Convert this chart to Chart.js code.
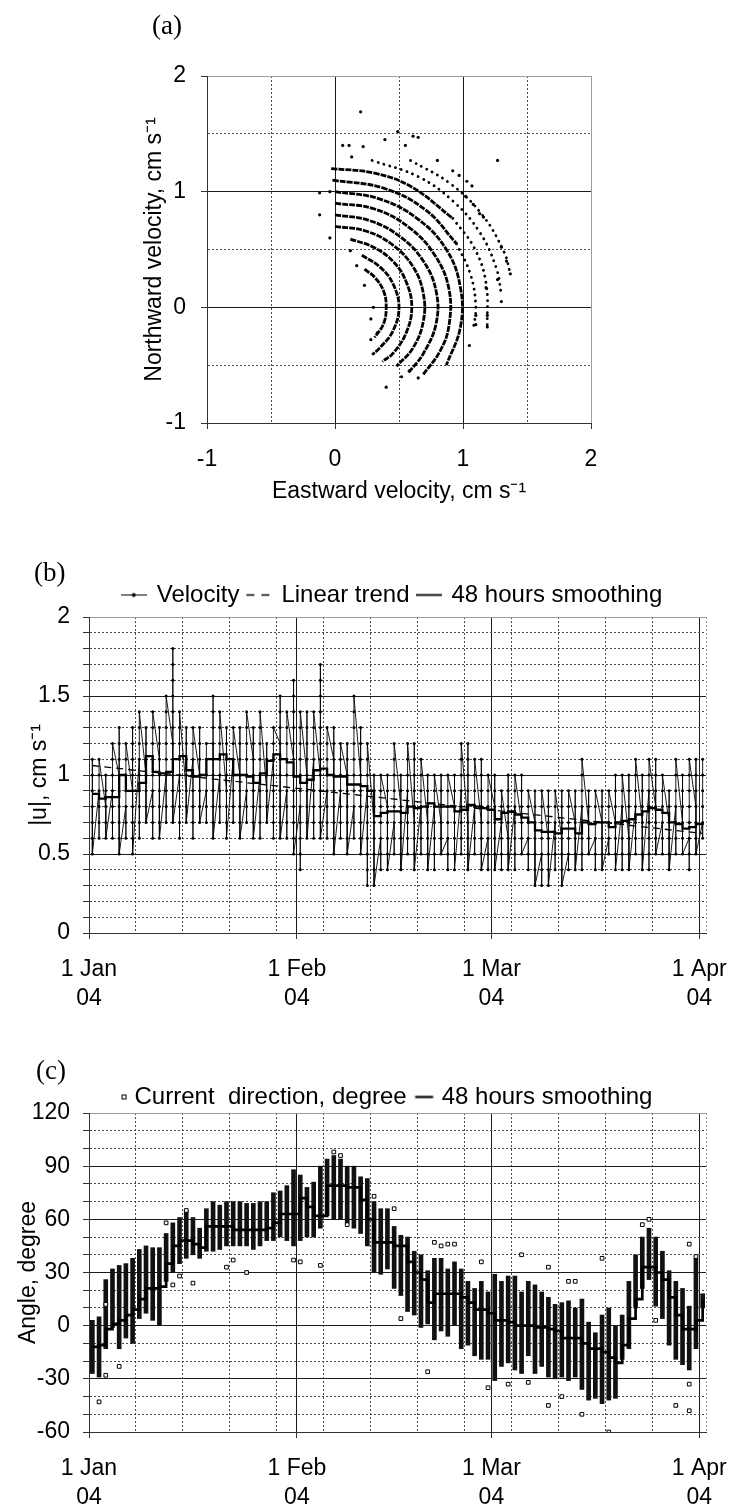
<!DOCTYPE html>
<html><head><meta charset="utf-8">
<script src="https://cdn.jsdelivr.net/npm/chart.js@4.4.1/dist/chart.umd.min.js"></script>
<style>
html,body{margin:0;padding:0;background:#fff;}
#wrap{position:relative;width:733px;height:1510px;overflow:hidden;background:#fff;}
#wrap canvas{position:absolute;left:0;}
.pl{position:absolute;font-family:'Liberation Serif','Times New Roman',serif;font-size:27px;line-height:27px;color:#000;}
</style></head><body>
<div id="wrap">
<canvas id="ca" width="733" height="520" style="top:0;width:733px;height:520px"></canvas>
<canvas id="cb" width="733" height="480" style="top:540px;width:733px;height:480px"></canvas>
<canvas id="cc" width="733" height="470" style="top:1040px;width:733px;height:470px"></canvas>
<div class="pl" style="left:152px;top:12px">(a)</div>
<div class="pl" style="left:34px;top:559px">(b)</div>
<div class="pl" style="left:36px;top:1057px">(c)</div>
</div>
<script>
// ---------------- DATA ----------------
// Panel (a): arcs of equal speed (u east, v north, cm/s)
const arc04 = [[0.23,0.33],[0.31,0.26],[0.38,0.14],[0.40,0],[0.38,-0.14],[0.31,-0.26]];
const arc05 = [[0.21,0.45],[0.35,0.35],[0.45,0.21],[0.50,0],[0.45,-0.21],[0.35,-0.35],[0.29,-0.41]];
const arc06 = [[0.12,0.59],[0.30,0.52],[0.46,0.39],[0.56,0.21],[0.60,0],[0.56,-0.21],[0.46,-0.39],[0.37,-0.47]];
const arc07 = [[0,0.70],[0.24,0.66],[0.45,0.54],[0.61,0.35],[0.69,0.12],[0.69,-0.12],[0.61,-0.35],[0.48,-0.51]];
const arc08 = [[0,0.80],[0.27,0.75],[0.51,0.61],[0.69,0.40],[0.79,0.14],[0.79,-0.14],[0.69,-0.40],[0.57,-0.57]];
const arc09 = [[0,0.90],[0.31,0.85],[0.58,0.69],[0.78,0.45],[0.89,0.16],[0.89,-0.16],[0.82,-0.38],[0.69,-0.58]];
const arc10 = [[0,1.00],[0.34,0.94],[0.64,0.77],[0.87,0.50],[0.98,0.17],[0.98,-0.17],[0.87,-0.50]];
const arc11 = [[-0.02,1.10],[0.38,1.03],[0.71,0.84],[0.95,0.55]];
const arc12 = [[-0.03,1.20],[0.31,1.16],[0.60,1.04],[0.92,0.77]];
const arc11s = [[0.95,0.55],[1.06,0.28],[1.10,0],[1.08,-0.19]];
const arc12s = [[0.92,0.77],[1.09,0.51],[1.18,0.21],[1.19,-0.17]];
const arc13s = [[0.29,1.27],[0.65,1.13],[0.92,0.92],[1.13,0.65],[1.26,0.34],[1.30,0.11]];
const arc14s = [[0.59,1.27],[0.90,1.07],[1.15,0.80],[1.32,0.48],[1.37,0.29]];
const scatterA = [[0.20,1.69],[0.49,1.52],[0.39,1.45],[0.61,1.48],[0.65,1.47],[0.06,1.40],[0.11,1.40],[0.22,1.39],[0.55,1.40],[0.13,1.30],
  [1.27,1.27],[0.80,1.27],[0.92,1.18],[0.97,1.14],[1.03,1.09],[1.07,1.05],[1.02,0.96],[1.08,0.89],[1.13,0.81],[1.16,0.78],
  [-0.12,0.99],[-0.04,1.00],[-0.12,0.80],[-0.04,0.60],[0.12,0.49],[0.17,0.36],[0.23,0.19],[0.30,0.0],[0.28,-0.10],[0.28,-0.28],
  [0.33,-0.22],[0.40,-0.69],[0.52,-0.60],[0.65,-0.61],[0.58,-0.55],[1.05,-0.33],[1.10,-0.15],[1.10,-0.07],[1.19,-0.07],[1.19,-0.17],
  [1.30,0.52],[1.34,0.40],[1.37,0.29],[1.27,0.24],[1.30,0.05],[1.18,0.17]];

// Panels (b),(c): daily categories 1 Jan 2004 .. 1 Apr 2004
const dates = ['1 Jan','2 Jan','3 Jan','4 Jan','5 Jan','6 Jan','7 Jan','8 Jan','9 Jan','10 Jan','11 Jan','12 Jan','13 Jan','14 Jan','15 Jan','16 Jan',
 '17 Jan','18 Jan','19 Jan','20 Jan','21 Jan','22 Jan','23 Jan','24 Jan','25 Jan','26 Jan','27 Jan','28 Jan','29 Jan','30 Jan','31 Jan',
 '1 Feb','2 Feb','3 Feb','4 Feb','5 Feb','6 Feb','7 Feb','8 Feb','9 Feb','10 Feb','11 Feb','12 Feb','13 Feb','14 Feb','15 Feb','16 Feb',
 '17 Feb','18 Feb','19 Feb','20 Feb','21 Feb','22 Feb','23 Feb','24 Feb','25 Feb','26 Feb','27 Feb','28 Feb','29 Feb',
 '1 Mar','2 Mar','3 Mar','4 Mar','5 Mar','6 Mar','7 Mar','8 Mar','9 Mar','10 Mar','11 Mar','12 Mar','13 Mar','14 Mar','15 Mar','16 Mar',
 '17 Mar','18 Mar','19 Mar','20 Mar','21 Mar','22 Mar','23 Mar','24 Mar','25 Mar','26 Mar','27 Mar','28 Mar','29 Mar','30 Mar','31 Mar','1 Apr'];
// time-axis grid positions (days since 1 Jan) and month tick labels
const timeGrid = [0,7,14,21,28,31,35,42,49,56,60,63,70,77,84,91,92];
const monthTicks = [0,31,60,91];
const monthLabels = [['1 Jan','04'],['1 Feb','04'],['1 Mar','04'],['1 Apr','04']];

// (b) velocity readings per day, mm/s (= 0.1 cm/s steps)
const velocityMM = [
 [8,9,10,11,7,6,5],[9,8,7,6,10,11],[8,9,10,7,6],[9,8,7,6,10,11,12],[10,11,12,13,9,8,7,6,5],[8,7,6,9,10,11,12],
 [9,10,11,12,13,8,7,6,5],[11,10,9,8,7,6,12,13,14],[10,11,12,13,9,8,7],[9,8,7,6,10,11,12,13,14],[11,12,13,10,9,8,7,6],
 [10,9,8,7,11,12,13,14,15],[12,13,14,15,16,17,18,11,10,9,8,7],[10,9,8,7,6,11,12,13,14],[9,10,11,12,13,8,7],
 [11,10,9,8,7,6,12,13],[10,11,12,13,9,8,7],[9,8,7,10,11,12],[12,13,14,15,11,10,9,8,7,6],[10,9,8,7,11,12,13,14],
 [9,10,11,12,13,8,7,6],[11,10,9,8,7,12,13],[10,11,12,13,9,8,7,6],[9,8,7,10,11,12,13,14],[11,12,13,10,9,8,7,6],
 [10,9,8,7,6,11,12,13,14],[9,10,11,12,8,7],[11,10,9,8,7,6,12,13],[12,13,14,15,11,10,9,8,7,6],[9,8,7,6,10,11,12,13,14],
 [11,12,13,14,15,16,10,9,8,7,6,5],[8,7,6,5,4,9,10,11,12,13,14],[10,11,12,13,14,9,8,7,6],[11,10,9,8,7,6,12,13,14],
 [10,11,12,13,14,15,16,17,9,8,7,6],[9,8,7,6,10,11,12,13],[11,12,13,10,9,8,7,6,5],[9,8,7,6,10,11,12],[10,11,12,9,8,7,6,5],
 [8,7,6,9,10,11,12,13,14,15],[10,11,12,13,9,8,7,6,5],[9,8,7,6,5,4,3,10,11,12],[7,8,9,10,6,5,4,3],[6,5,4,7,8,9,10],
 [8,9,10,7,6,5,4],[7,6,5,8,9,10,11,12],[8,9,10,7,6,5,4],[9,8,7,6,5,10,11,12],[7,8,9,10,11,12,6,5,4],[8,7,6,5,9,10,11],
 [7,8,9,10,6,5,4],[8,7,6,5,4,9,10],[7,8,9,10,6,5],[6,5,4,7,8,9,10],[8,9,10,7,6,5,4],[9,8,7,6,5,10,11,12],
 [7,8,9,10,11,12,6,5,4],[8,7,6,5,9,10,11],[7,8,9,10,11,6,5,4],[6,5,4,7,8,9,10],[8,9,10,7,6,5,4],[7,6,5,4,8,9],
 [6,7,8,9,10,5,4],[8,7,6,5,4,9,10],[7,8,9,10,6,5],[6,5,4,7,8,9],[7,8,9,6,5,4,3],[5,4,3,6,7,8,9],[6,7,8,9,5,4,3],
 [7,6,5,4,8,9],[6,7,8,9,5,4,3],[5,4,6,7,8,9],[7,8,9,6,5,4],[8,7,6,5,4,9,10,11],[7,8,9,6,5],[6,5,4,7,8,9],[7,8,9,6,5,4],
 [6,5,7,8,9],[7,8,9,10,6,5,4],[8,7,6,5,4,9,10],[6,7,8,9,10,5,4],[8,7,6,5,9,10,11],[7,8,9,10,6,5,4],[9,8,7,6,5,4,10,11],
 [8,9,10,11,7,6,5],[7,6,5,8,9,10],[7,8,9,6,5,4],[8,7,6,5,9,10,11],[7,8,9,10,6,5],[6,5,4,7,8,9,10,11],[8,9,10,11,7,6,5],[7,6,8,9,10,11]];
const trendDates = ['1 Jan','1 Apr'];
const trendValues = [1.06, 0.63];
const velSmooth = [0.88,0.85,0.86,0.86,1.0,0.9,0.9,0.95,1.12,1.02, 1.01,1.02,1.1,1.12,1.03,0.99,1.0,1.1,1.1,1.13,
 1.1,1.0,1.0,0.99,0.95,1.01,1.09,1.13,1.1,1.08, 0.99,0.95,0.97,1.03,1.04,1.0,0.99,0.99,0.94,0.94,
 0.93,0.9,0.74,0.76,0.77,0.77,0.76,0.8,0.79,0.8, 0.82,0.8,0.8,0.8,0.77,0.78,0.81,0.8,0.79,0.78,
 0.72,0.76,0.77,0.75,0.73,0.7,0.65,0.64,0.64,0.63, 0.66,0.66,0.63,0.7,0.69,0.7,0.7,0.67,0.7,0.71,
 0.72,0.75,0.77,0.79,0.78,0.76,0.7,0.69,0.66,0.67, 0.69,0.7];

// (c) daily spread of current direction (deg) and 48 h smoothing
const dirLo = [-27,-29,-13,-1,-13,-7,-10,4,7,3, 0,25,30,35,38,40,38,42,42,43, 45,45,45,45,43,45,48,48,50,48,
 45,48,50,50,55,62,60,60,58,55, 52,45,30,29,32,21,17,8,6,-1, 1,-8,-3,-6,0,-13,-11,-17,-19,-19,
 -31,-23,-21,-25,-27,-17,-27,-23,-29,-30, -29,-31,-29,-36,-42,-41,-44,-42,-41,-19, -13,10,21,26,11,4,-11,-19,-22,-25, -13,10];
const dirHi = [3,5,26,32,34,35,38,43,45,44, 44,52,58,61,65,61,55,66,70,68, 70,70,70,69,69,70,70,75,76,79,
 88,85,78,81,90,94,96,94,90,90, 84,83,70,66,66,56,51,50,42,40, 31,38,38,32,36,32,25,21,25,19,
 29,25,28,28,19,25,23,19,16,12, 13,14,10,15,2,-4,6,10,0,6, 25,40,50,55,50,42,31,25,21,11, 38,18];
const dirSmooth = [-12,-11,-2,1,3,6,9,15,21,21, 22,35,45,48,48,46,44,56,56,56, 56,54,54,54,54,54,55,58,63,63,
 63,72,67,62,62,79,79,79,78,78, 71,60,47,47,47,45,45,36,30,26, 13,18,18,18,18,16,13,9,9,7,
 3,3,2,0,0,0,-1,-1,-2,-3, -7,-7,-7,-10,-13,-13,-15,-18,-21,-11, 4,15,33,33,30,26,16,6,-2,-2, 3,14];
const outDay = [1,2,2,4,11,12,13,14,15,20, 21,23,30,31,34,36,37,38,42,45, 46,50,51,52,53,54,58,59,62,64, 65,68,68,70,71,72,73,76,77,82, 83,84,87,89,89,89,90];
const outDeg = [-43,12,-28,-23,58,23,28,65,24,33, 37,30,37,36,34,98,96,57,73,66, 4,-26,47,45,46,46,36,-35,-33,40, -32,33,-45,-40,25,25,-50,38,-60,57, 60,3,-45,-48,-33,46,39];

// ---------------- STYLE / HELPERS ----------------
const FONT = "'Liberation Sans', Arial, Helvetica, sans-serif";
Chart.defaults.font.family = FONT;
Chart.defaults.font.size = 23;
Chart.defaults.color = '#000';
Chart.defaults.animation = false;
Chart.defaults.plugins.tooltip.enabled = false;

const G_MAJOR = '#1c1c1c', G_MINOR = '#4a4a4a', G_EDGE = '#9c9c9c';
const near = (a, b) => Math.abs(a - b) < 1e-6;
const isMult = (v, m) => near(v / m, Math.round(v / m));

function gridOpts(isMajor, isEdge, tickOn) {
  return {
    offset: false,
    color: c => { if (!c.tick) return G_MINOR; const v = c.tick.value; return isEdge(v) ? G_EDGE : (isMajor(v) ? G_MAJOR : G_MINOR); },
    lineWidth: 1, tickLength: 6, drawTicks: true,
    tickColor: c => (c.tick && tickOn(c.tick.value)) ? '#333' : 'rgba(0,0,0,0)'
  };
}
function borderOpts(isMajor) {
  return { display: true, color: '#333', width: 1, dash: c => (c.tick && !isMajor(c.tick.value)) ? [2, 2] : [] };
}
function marker(w, h, draw) {
  const c = document.createElement('canvas'); c.width = w; c.height = h;
  const g = c.getContext('2d'); draw(g); return c;
}
// legend symbols
const mkVel = marker(26, 9, g => { g.strokeStyle = '#000'; g.lineWidth = 1; g.beginPath(); g.moveTo(0, 4.5); g.lineTo(26, 4.5); g.stroke();
  g.fillStyle = '#000'; g.beginPath(); g.arc(13, 4.5, 1.9, 0, Math.PI * 2); g.fill(); });
const mkTrend = marker(26, 9, g => { g.strokeStyle = '#000'; g.lineWidth = 1.3; g.beginPath(); g.moveTo(1, 4.5); g.lineTo(9, 4.5); g.moveTo(16, 4.5); g.lineTo(24, 4.5); g.stroke(); });
const mkSmooth = marker(26, 9, g => { g.strokeStyle = '#000'; g.lineWidth = 1.8; g.beginPath(); g.moveTo(0, 4.5); g.lineTo(26, 4.5); g.stroke(); });
const mkSquare = marker(26, 9, g => { g.strokeStyle = '#000'; g.lineWidth = 1; g.strokeRect(19.5, 2.5, 4, 4); });
const mkSmooth2 = marker(28, 9, g => { g.strokeStyle = '#000'; g.lineWidth = 2.2; g.beginPath(); g.moveTo(6.5, 4.5); g.lineTo(24.5, 4.5); g.stroke(); });

function legendCfg(maxH, boxW, pad) {
  return {
    display: true, position: 'top', fullSize: false, align: 'center', maxHeight: maxH,
    labels: {
      usePointStyle: true, pointStyleWidth: boxW, padding: pad, color: '#000', font: { size: 24 },
      generateLabels: chart => chart.data.datasets.map((ds, i) => ({
        text: ds.label, datasetIndex: i, pointStyle: ds.legendMarker, hidden: false,
        lineWidth: 0, strokeStyle: 'rgba(0,0,0,0)', fillStyle: 'rgba(0,0,0,0)', fontColor: '#000'
      })).filter(it => it.text)
    }
  };
}
// small layout helper: nudge the legend row horizontally
const legendShift = { id: 'legendShift', afterLayout(chart, args, opts) {
  const lg = chart.legend; if (lg && opts && opts.dx) { lg.left += opts.dx; lg.right += opts.dx; } } };

// ---------------- PANEL (a) ----------------
const toXY = arr => arr.map(p => ({ x: p[0], y: p[1] }));
const dense = d => ({ type: 'line', data: toXY(d), borderColor: '#000', borderWidth: 2.8, borderDash: [6, 1.1], tension: 0.4, pointRadius: 0, fill: false });
const sparse = d => ({ type: 'line', data: toXY(d), borderColor: '#000', borderWidth: 2.8, borderDash: [0.1, 6], borderCapStyle: 'round', tension: 0.4, pointRadius: 0, fill: false });
const intA = v => isMult(v, 1);
new Chart(document.getElementById('ca'), {
  type: 'scatter',
  data: { datasets: [
    dense(arc04), dense(arc05), dense(arc06), dense(arc07), dense(arc08), dense(arc09), dense(arc10), dense(arc11), dense(arc12),
    sparse(arc11s), sparse(arc12s), sparse(arc13s), sparse(arc14s),
    { type: 'scatter', data: toXY(scatterA), pointRadius: 1.6, pointBackgroundColor: '#000', pointBorderWidth: 0 }
  ]},
  options: {
    responsive: false, animation: false, events: [],
    layout: { padding: { left: 130, right: 142, top: 76, bottom: 15 } },
    plugins: { legend: { display: false } },
    scales: {
      x: { type: 'linear', min: -1, max: 2, offset: false,
        ticks: { stepSize: 0.5, maxTicksLimit: 100, autoSkip: false, maxRotation: 0, padding: 17, callback: v => intA(v) ? String(Math.round(v)) : '' },
        grid: gridOpts(intA, v => near(v, 2), intA), border: borderOpts(intA),
        title: { display: true, text: 'Eastward velocity, cm s⁻¹', padding: { top: 0, bottom: 0 } },
        afterFit: s => { s.height = 82; } },
      y: { type: 'linear', min: -1, max: 2,
        ticks: { stepSize: 0.5, maxTicksLimit: 100, autoSkip: false, padding: 15, callback: v => intA(v) ? String(Math.round(v)) : '' },
        grid: gridOpts(intA, v => near(v, 2), intA), border: borderOpts(intA),
        title: { display: true, text: 'Northward velocity, cm s⁻¹', padding: { top: 11, bottom: 0 } },
        afterFit: s => { s.width = 77; } }
    }
  }
});

// ---------------- shared time axis ----------------
const isMonth = v => monthTicks.some(m => near(m, v));
function timeAxis(h) {
  return {
    type: 'linear', position: 'bottom', min: 0, max: 92, offset: false,
    afterBuildTicks: s => { s.ticks = timeGrid.map(v => ({ value: v })); },
    ticks: { autoSkip: false, maxRotation: 0, minRotation: 0, padding: 16, font: { size: 23, lineHeight: 1.27 },
      callback: v => { const k = monthTicks.findIndex(m => near(m, v)); return k >= 0 ? monthLabels[k] : ''; } },
    grid: gridOpts(isMonth, v => near(v, 92), isMonth), border: borderOpts(isMonth),
    afterFit: s => { s.height = h; }
  };
}

// ---------------- PANEL (b) ----------------
const velPoints = [];
velocityMM.forEach((list, i) => list.forEach(v => velPoints.push({ x: dates[i], y: v / 10 })));
const trendPoints = trendDates.map((d, i) => ({ x: d, y: trendValues[i] }));
const halfB = v => isMult(v, 0.5);
new Chart(document.getElementById('cb'), {
  type: 'line',
  data: { labels: dates, datasets: [
    { label: 'Velocity', data: velPoints, borderColor: '#000', borderWidth: 0.9, pointRadius: 1.5, pointBackgroundColor: '#000', pointBorderWidth: 0, order: 2, legendMarker: mkVel },
    { label: 'Linear trend', data: trendPoints, borderColor: '#000', borderWidth: 1.3, borderDash: [7, 5], pointRadius: 0, order: 1, legendMarker: mkTrend },
    { label: '48 hours smoothing', data: velSmooth, borderColor: '#000', borderWidth: 2.3, stepped: 'before', pointRadius: 0, order: 0, legendMarker: mkSmooth }
  ]},
  plugins: [legendShift],
  options: {
    responsive: false, animation: false, events: [],
    layout: { padding: { left: 14, right: 27, top: 35, bottom: 0 } },
    plugins: { legend: legendCfg(undefined, 22, 8), legendShift: { dx: -5 } },
    scales: {
      x: { type: 'category', offset: true, display: false },
      xt: timeAxis(87),
      y: { type: 'linear', min: 0, max: 2,
        ticks: { stepSize: 0.1, maxTicksLimit: 100, autoSkip: false, padding: 13, callback: v => halfB(v) ? String(Math.round(v * 10) / 10) : '' },
        grid: gridOpts(halfB, v => near(v, 2), v => true), border: borderOpts(halfB),
        title: { display: true, text: '|u|, cm s⁻¹', padding: { top: 12, bottom: 0 } },
        afterFit: s => { s.width = 75; } }
    }
  }
});

// ---------------- PANEL (c) ----------------
const m30 = v => isMult(v, 30);
new Chart(document.getElementById('cc'), {
  type: 'bar',
  data: { labels: dates, datasets: [
    { type: 'bar', label: 'Current  direction, degree', data: dirLo.map((lo, i) => [lo, dirHi[i]]), backgroundColor: '#111', borderWidth: 0, barThickness: 4, order: 2, legendMarker: mkSquare },
    { type: 'line', label: '', data: outDay.map((d, i) => ({ x: dates[d], y: outDeg[i] })), showLine: false, pointStyle: 'rect', pointRadius: 2.6, pointBackgroundColor: '#fff', pointBorderColor: '#000', pointBorderWidth: 1, order: 1 },
    { type: 'line', label: '48 hours smoothing', data: dirSmooth, borderColor: '#000', borderWidth: 2.7, stepped: 'before', pointRadius: 0, order: 0, legendMarker: mkSmooth2 }
  ]},
  plugins: [legendShift],
  options: {
    responsive: false, animation: false, events: [],
    layout: { padding: { left: 0, right: 27, top: 36, bottom: 0 } },
    plugins: { legend: legendCfg(37, 14, 9), legendShift: { dx: -17 } },
    scales: {
      x: { type: 'category', offset: true, display: false },
      xt: timeAxis(78),
      y: { type: 'linear', min: -60, max: 120, beginAtZero: false,
        ticks: { stepSize: 10, maxTicksLimit: 100, autoSkip: false, padding: 13, callback: v => m30(v) ? String(Math.round(v)) : '' },
        grid: gridOpts(m30, v => near(v, 120), v => true), border: borderOpts(m30),
        title: { display: true, text: 'Angle, degree', padding: { top: 15, bottom: 0 } },
        afterFit: s => { s.width = 89; } }
    }
  }
});
</script>
</body></html>
